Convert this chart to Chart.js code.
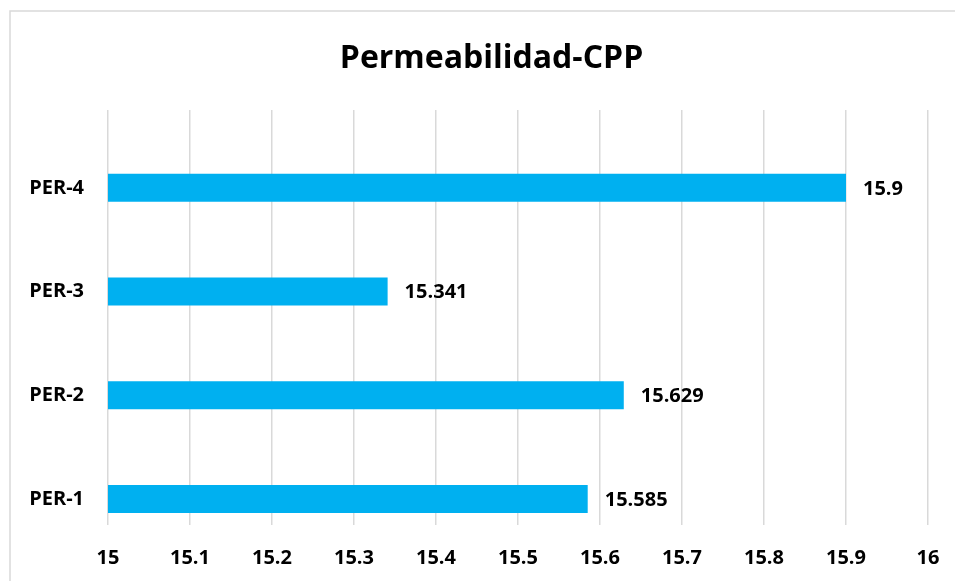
<!DOCTYPE html>
<html>
<head>
<meta charset="utf-8">
<script src="https://cdn.jsdelivr.net/npm/chart.js@4"></script>
<style>
html,body{margin:0;padding:0;background:#fff;}
#wrap{width:955px;height:581px;position:relative;}
</style>
</head>
<body>
<div id="wrap"><canvas id="c" width="955" height="581"></canvas></div>
<script>
const categories = ['PER-1', 'PER-2', 'PER-3', 'PER-4'];
const values = [15.585, 15.629, 15.341, 15.9];
const emptySeries = [null, null, null, null];
const xTicks = [15, 15.1, 15.2, 15.3, 15.4, 15.5, 15.6, 15.7, 15.8, 15.9, 16];
const chartTitle = 'Permeabilidad-CPP';

const FONT = "'Open Sans', 'DejaVu Sans', sans-serif";

const frame = {
  id: 'frame',
  afterLayout(chart) {
    const t = chart.titleBlock;
    if (t) { t.left = 28; t.right = 955; }
  },
  beforeDraw(chart) {
    const ctx = chart.ctx;
    ctx.save();
    ctx.fillStyle = '#fff';
    ctx.fillRect(0, 0, chart.width, chart.height);
    ctx.strokeStyle = '#d9d9d9';
    ctx.lineWidth = 1.5;
    ctx.beginPath();
    ctx.moveTo(10, 600);
    ctx.lineTo(10, 11);
    ctx.lineTo(960, 11);
    ctx.stroke();
    ctx.restore();
  }
};

const valueLabels = {
  id: 'valueLabels',
  afterDatasetsDraw(chart) {
    const ctx = chart.ctx;
    ctx.save();
    ctx.font = 'bold 20px ' + FONT;
    ctx.fillStyle = '#000';
    ctx.textBaseline = 'middle';
    ctx.textAlign = 'left';
    chart.data.datasets.forEach((ds, di) => {
      const meta = chart.getDatasetMeta(di);
      meta.data.forEach((bar, i) => {
        const v = ds.data[i];
        if (v === null || v === undefined) return;
        ctx.fillText(String(v), bar.x + 17, bar.y + 1);
      });
    });
    ctx.restore();
  }
};

new Chart(document.getElementById('c'), {
  type: 'bar',
  data: {
    labels: categories,
    datasets: [
      { label: '', data: emptySeries, backgroundColor: '#00B0F0' },
      { label: 'Permeabilidad', data: values, backgroundColor: '#00B0F0' }
    ]
  },
  options: {
    indexAxis: 'y',
    responsive: false,
    animation: false,
    categoryPercentage: 1.0,
    barPercentage: 0.54,
    layout: { padding: { left: 0, right: 27, top: 0, bottom: 0 } },
    plugins: {
      legend: { display: false },
      tooltip: { enabled: false },
      title: {
        display: true,
        text: chartTitle,
        color: '#000',
        font: { family: FONT, size: 32, weight: 'bold', lineHeight: 1.2 },
        padding: { top: 40, bottom: 31.6 }
      }
    },
    scales: {
      x: {
        type: 'linear',
        min: 15,
        max: 16,
        afterBuildTicks(scale) { scale.ticks = xTicks.map(v => ({ value: v })); },
        afterFit(scale) { scale.height = 56; scale.paddingLeft = 0; scale.paddingRight = 0; },
        grid: { color: '#d9d9d9', lineWidth: 1.5, drawTicks: false },
        border: { display: false },
        ticks: {
          color: '#000',
          padding: 21,
          font: { family: FONT, size: 20, weight: 'bold' },
          callback: v => String(v)
        }
      },
      y: {
        reverse: true,
        afterFit(scale) { scale.width = 108; },
        grid: { display: false, drawTicks: false },
        border: { display: false },
        ticks: {
          color: '#000',
          padding: 24,
          labelOffset: 26,
          font: { family: FONT, size: 20, weight: 'bold' }
        }
      }
    }
  },
  plugins: [frame, valueLabels]
});
</script>
</body>
</html>
